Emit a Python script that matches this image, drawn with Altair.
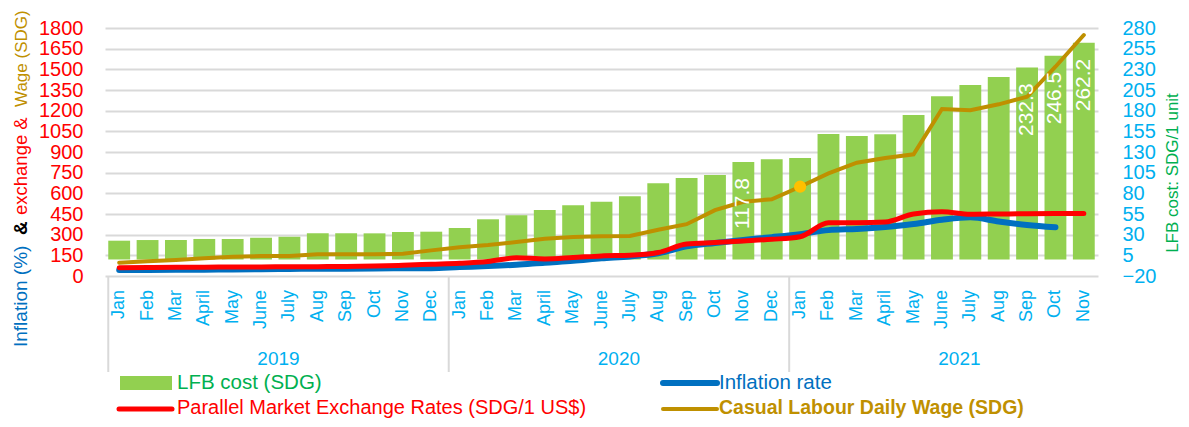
import altair as alt
import pandas as pd

month_names = ["Jan", "Feb", "Mar", "April", "May", "June", "July", "Aug", "Sep", "Oct", "Nov", "Dec"]
years = ["2019"] * 12 + ["2020"] * 12 + ["2021"] * 11
months = month_names * 2 + month_names[:11]
keys = [f"{y}-{m}" for y, m in zip(years, months)]

# LFB cost (SDG / 1 unit) - right axis
lfb_cost = [22.7, 23.5, 23.5, 24.8, 24.8, 26.3, 27.6, 31.6, 31.6, 31.6, 33.2, 33.6,
            38.1, 48.6, 53.4, 59.8, 65.5, 69.9, 76.4, 92.1, 98.5, 102.2, 117.8, 121.1,
            122.7, 151.8, 149.4, 151.5, 174.8, 197.4, 211.0, 220.7, 232.3, 246.5, 262.2]
bar_labels = [""] * 22 + ["117.8"] + [""] * 9 + ["232.3", "246.5", "262.2"]

# Inflation rate (%) - left axis
inflation = [43.5, 44.0, 44.6, 45.8, 47.7, 48.8, 51.0, 53.0, 53.5, 55.0, 56.0, 57.0,
             65, 72, 82, 97, 110, 128, 142, 165, 215, 240, 262, 282,
             304, 333, 342, 356, 377, 408, 426, 396, 370, 353, None]
# Parallel market exchange rate (SDG / 1 US$) - left axis
exchange = [60, 62, 63, 64, 65, 66, 67, 68, 69, 72, 78, 85,
            92, 105, 132, 124, 134, 146, 150, 170, 232, 243, 254, 266,
            285, 386, 386, 392, 450, 466, 448, 450, 452, 453, 453]
# Casual labour daily wage (SDG) - left axis
wage = [97, 107, 116, 128, 140, 145, 145, 157, 157, 157, 162, 186,
        209, 225, 246, 271, 283, 289, 291, 336, 376, 478, 539, 557,
        648, 745, 822, 856, 883, 1212, 1203, 1246, 1301, 1519, 1749]

year_labels = ["2019", "2020", "2021"]
year_centers = ["2019-July", "2020-July", "2021-July"]
year_starts = ["2019-Jan", "2020-Jan", "2021-Jan"]

df = pd.DataFrame({"key": keys, "month": months, "lfb": lfb_cost, "label": bar_labels,
                   "inflation": inflation, "exchange": exchange, "wage": wage})
years_df = pd.DataFrame({"year": year_labels, "center": year_centers, "start": year_starts})

GREEN_BAR = "#92D050"
RED = "#FF0000"
BLUE = "#0070C0"
GOLD = "#BF9000"
CYAN = "#00B0F0"
GREEN_TXT = "#00B050"
GRID = "#D9D9D9"
FONT = "Liberation Sans"

xscale = alt.Scale(domain=keys, paddingInner=0.23, paddingOuter=0.115)


def left_scale():
    return alt.Scale(domain=[0, 1800], nice=False, zero=False)


def right_scale():
    return alt.Scale(domain=[-20, 280], nice=False, zero=False)


def xk():
    return alt.X("key:N", scale=xscale, sort=None, title=None, axis=None)


base = alt.Chart(df)

bars = base.mark_bar(color=GREEN_BAR).encode(
    x=xk(),
    y=alt.Y("lfb:Q", scale=right_scale(), title=None,
            axis=alt.Axis(orient="right", values=list(range(-20, 281, 25)), format="d",
                          labelColor=CYAN, labelFontSize=20, labelPadding=24,
                          ticks=False, domain=False, grid=False)),
    y2=alt.datum(0),
)

month_text = base.mark_text(
    angle=270, align="right", baseline="middle", color=CYAN, fontSize=18
).encode(x=xk(), y=alt.value(262), text="month:N")

bar_text = base.transform_filter("datum.label != ''").mark_text(
    angle=270, align="right", baseline="middle", dx=-16, color="white", fontSize=21,
).encode(
    x=xk(),
    y=alt.Y("lfb:Q", scale=right_scale(), axis=None),
    text="label:N",
)

blue_line = base.transform_filter("isValid(datum.inflation)").mark_line(
    color=BLUE, strokeWidth=6, interpolate="monotone", strokeCap="round"
).encode(x=xk(), y=alt.Y("inflation:Q", scale=left_scale(), axis=None))

red_line = base.mark_line(
    color=RED, strokeWidth=5, interpolate="monotone", strokeCap="round"
).encode(x=xk(), y=alt.Y("exchange:Q", scale=left_scale(), axis=None))

gold_line = base.mark_line(color=GOLD, strokeWidth=4, strokeCap="round").encode(
    x=xk(),
    y=alt.Y("wage:Q", scale=left_scale(), title=None,
            axis=alt.Axis(orient="left", values=list(range(0, 1801, 150)), format="d",
                          labelColor=RED, labelFontSize=20, labelPadding=22,
                          ticks=False, domain=False, grid=True,
                          gridColor=GRID, gridWidth=2)),
)

dot = base.transform_filter("datum.key == '2021-Jan'").mark_circle(
    color="#FFC000", size=150, opacity=1
).encode(x=xk(), y=alt.Y("wage:Q", scale=left_scale(), axis=None))

ybase = alt.Chart(years_df)
year_text = ybase.mark_text(color=CYAN, fontSize=19, baseline="middle").encode(
    x=alt.X("center:N", scale=xscale, axis=None, sort=None, bandPosition=0),
    y=alt.value(331),
    text="year:N",
)
separators = ybase.mark_rule(color=GRID, strokeWidth=2).encode(
    x=alt.X("start:N", scale=xscale, axis=None, sort=None, bandPosition=0),
    y=alt.value(248),
    y2=alt.value(344),
)


def note(text, x, y, color, size, weight="normal", angle=0, align="left",
         baseline="alphabetic"):
    params = dict(text=text, color=color, fontSize=size, fontWeight=weight,
                  align=align, baseline=baseline)
    if angle:
        params["angle"] = angle
    return alt.Chart(alt.Data(values=[{}])).mark_text(**params).encode(
        x=alt.value(x), y=alt.value(y))


def swatch_line(x1, x2, y, color, width):
    return alt.Chart(alt.Data(values=[{}])).mark_rule(
        color=color, strokeWidth=width, strokeCap="round").encode(
        x=alt.value(x1), x2=alt.value(x2), y=alt.value(y))


annotations = [
    # left axis multi-coloured title
    note("Inflation (%)", -78, 319, BLUE, 19, angle=270),
    note("&", -78, 207, "#000000", 19, weight="bold", angle=270),
    note("exchange &", -78, 187, RED, 18.5, angle=270),
    note("Wage (SDG)", -78, 79, GOLD, 17, angle=270),
    # right axis title
    note("LFB cost: SDG/1 unit", 1073, 145, GREEN_TXT, 17, angle=270, align="center"),
    # legend
    alt.Chart(alt.Data(values=[{}])).mark_rect(color=GREEN_BAR).encode(
        x=alt.value(15), x2=alt.value(67), y=alt.value(348), y2=alt.value(362)),
    note("LFB cost (SDG)", 72, 355, GREEN_TXT, 20.5, baseline="middle"),
    swatch_line(558, 612, 355, BLUE, 6),
    note("Inflation rate", 614, 355, BLUE, 20.5, baseline="middle"),
    swatch_line(14, 67, 381, RED, 5),
    note("Parallel Market Exchange Rates (SDG/1 US$)", 72, 380, RED, 20,
         baseline="middle"),
    swatch_line(558, 612, 381, GOLD, 4),
    note("Casual Labour Daily Wage (SDG)", 614, 380, GOLD, 19.5, weight="bold",
         baseline="middle"),
]

chart = alt.layer(
    bars, blue_line, red_line, gold_line, dot, bar_text, month_text, year_text,
    separators, *annotations
).resolve_scale(
    y="independent"
).properties(
    width=993,
    height=248,
    autosize=alt.AutoSizeParams(type="none"),
    padding={"left": 97, "top": 20, "right": 83, "bottom": 143},
).configure(font=FONT).configure_view(stroke=None)

chart.save("out.html", embed_options={"renderer": "svg", "actions": False})
